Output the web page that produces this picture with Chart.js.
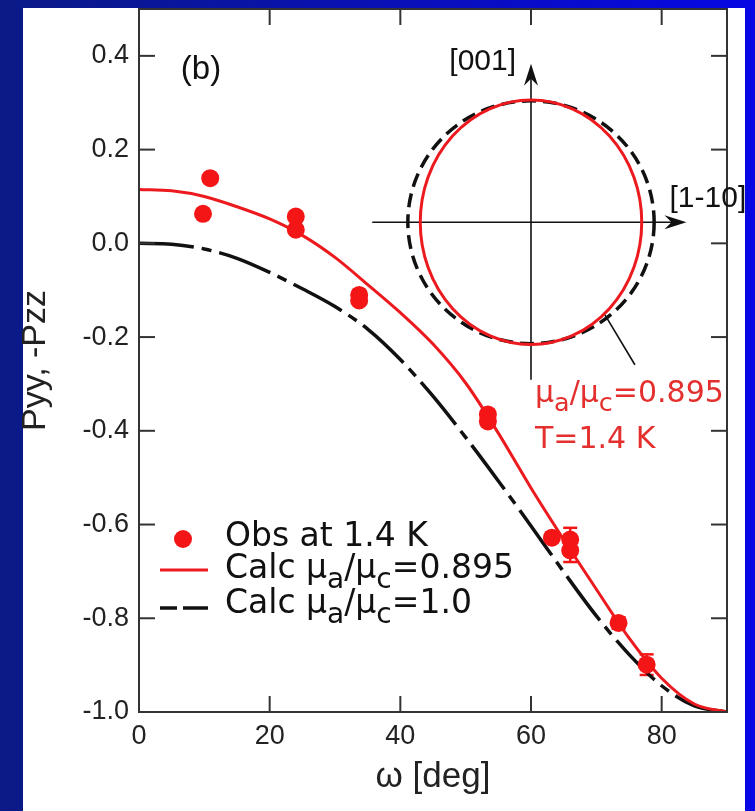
<!DOCTYPE html>
<html><head><meta charset="utf-8">
<script src="https://cdn.jsdelivr.net/npm/chart.js@4"></script>
<style>
html,body{margin:0;padding:0;width:755px;height:811px;overflow:hidden;}
body{background:linear-gradient(to right,#0b1a86,#0707e4);position:relative;}
#panel{position:absolute;left:23px;top:8px;width:722px;height:803px;background:#fff;}
#wrap{position:absolute;left:0;top:0;width:755px;height:811px;}
</style></head><body>
<div id="panel"></div>
<div id="wrap"><canvas id="c" width="755" height="811"></canvas></div>
<script>
// ---- data ----
const calcOmega = [0, 5, 10, 15, 20, 25, 30, 35, 40, 45, 50, 55, 60, 65, 70, 75, 80, 85, 90];
const calcRed   = [0.115, 0.112, 0.100, 0.078, 0.052, 0.017, -0.030, -0.088, -0.148, -0.215, -0.298, -0.405, -0.522, -0.632, -0.738, -0.842, -0.928, -0.983, -1.0];
const calcBlack = [0.0, -0.002, -0.012, -0.032, -0.062, -0.097, -0.135, -0.183, -0.248, -0.326, -0.414, -0.507, -0.603, -0.701, -0.795, -0.877, -0.944, -0.987, -1.0];
const obsOmega = [9.8, 10.9, 24.0, 24.0, 33.7, 33.7, 53.4, 53.4, 63.2, 66.0, 66.0, 73.4, 77.7];
const obsP     = [0.063, 0.139, 0.057, 0.029, -0.110, -0.122, -0.365, -0.380, -0.628, -0.632, -0.655, -0.810, -0.899];
const obsErr   = [0.005, 0.005, 0.005, 0.005, 0.005, 0.005, 0.010, 0.010, 0.010, 0.025, 0.025, 0.012, 0.022];
const xTicks = [0, 20, 40, 60, 80];
const yTicks = [-1.0, -0.8, -0.6, -0.4, -0.2, 0.0, 0.2, 0.4];
const xTitle = 'ω [deg]';
const yTitle = 'Pyy, -Pzz';
const legendObs = 'Obs at 1.4 K';
const legendRed = [['Calc μ', 0], ['a', 1], ['/μ', 0], ['c', 1], ['=0.895', 0]];
const legendBlack = [['Calc μ', 0], ['a', 1], ['/μ', 0], ['c', 1], ['=1.0', 0]];
const insetRatioText = [['μ', 0], ['a', 1], ['/μ', 0], ['c', 1], ['=0.895', 0]];
const insetTempText = 'T=1.4 K';
const panelLabel = '(b)';
const axisLabelV = '[001]';
const axisLabelH = '[1-10]';
// inset (ellipse sketch) expressed in data units of the main axes
const insetCenter = [60.0, 0.045];
const ellipseRedRadii = [16.95, 0.261];
const circleBlackRadii = [18.85, 0.259];
const insetHAxis = [35.7, 83.8];
const insetVAxis = [-0.291, 0.383];
const pointerLine = [[71.3, -0.152], [75.9, -0.259]];

const RED = '#ec1a1e', MARK = '#f41616', TXTRED = '#e3302e', BLK = '#111';

function drawRich(ctx, parts, x, y, size, family, color) {
  let cx = x;
  ctx.fillStyle = color; ctx.textBaseline = 'alphabetic'; ctx.textAlign = 'left';
  parts.forEach(([t, sub]) => {
    const fs = sub ? size * 0.85 : size;
    ctx.font = fs + 'px "' + family + '"';
    ctx.fillText(t, cx, y + (sub ? size * 0.3 : 0));
    cx += ctx.measureText(t).width;
  });
}
function line(ctx, x1, y1, x2, y2) { ctx.beginPath(); ctx.moveTo(x1, y1); ctx.lineTo(x2, y2); ctx.stroke(); }
function arrowHead(ctx, tx, ty, dx, dy) {
  const L = 22, W = 7, N = 15, px = -dy, py = dx;
  ctx.beginPath();
  ctx.moveTo(tx, ty);
  ctx.lineTo(tx - dx * L + px * W, ty - dy * L + py * W);
  ctx.lineTo(tx - dx * N, ty - dy * N);
  ctx.lineTo(tx - dx * L - px * W, ty - dy * L - py * W);
  ctx.closePath(); ctx.fill();
}

const decor = {
  id: 'decor',
  beforeDatasetsDraw(chart) {
    const {ctx, scales: {x, y}} = chart;
    ctx.save();
    ctx.strokeStyle = MARK; ctx.lineWidth = 2.5;
    obsOmega.forEach((w, i) => {
      const px = x.getPixelForValue(w);
      const y1 = y.getPixelForValue(obsP[i] + obsErr[i]);
      const y2 = y.getPixelForValue(obsP[i] - obsErr[i]);
      line(ctx, px, y1, px, y2);
      line(ctx, px - 7, y1, px + 7, y1);
      line(ctx, px - 7, y2, px + 7, y2);
    });
    ctx.restore();
  },
  afterDraw(chart) {
    const {ctx, chartArea: a, scales: {x, y}} = chart;
    ctx.save();
    // frame + inward ticks
    ctx.strokeStyle = '#333'; ctx.lineWidth = 2;
    ctx.strokeRect(a.left, a.top, a.right - a.left, a.bottom - a.top);
    const TL = 16;
    xTicks.forEach(v => {
      if (v === 0) return;
      const px = x.getPixelForValue(v);
      line(ctx, px, a.bottom, px, a.bottom - TL);
      line(ctx, px, a.top, px, a.top + TL);
    });
    yTicks.forEach(v => {
      if (v === -1) return;
      const py = y.getPixelForValue(v);
      line(ctx, a.left, py, a.left + TL, py);
      line(ctx, a.right, py, a.right - TL, py);
    });
    // inset
    const cx = x.getPixelForValue(insetCenter[0]), cy = y.getPixelForValue(insetCenter[1]);
    const rxB = x.getPixelForValue(insetCenter[0] + circleBlackRadii[0]) - cx;
    const ryB = cy - y.getPixelForValue(insetCenter[1] + circleBlackRadii[1]);
    const rxR = x.getPixelForValue(insetCenter[0] + ellipseRedRadii[0]) - cx;
    const ryR = cy - y.getPixelForValue(insetCenter[1] + ellipseRedRadii[1]);
    ctx.strokeStyle = BLK; ctx.fillStyle = BLK; ctx.lineWidth = 1.6;
    const hx1 = x.getPixelForValue(insetHAxis[0]), hx2 = x.getPixelForValue(insetHAxis[1]);
    const vy1 = y.getPixelForValue(insetVAxis[0]), vy2 = y.getPixelForValue(insetVAxis[1]);
    line(ctx, hx1, cy, hx2 - 12, cy);
    line(ctx, cx, vy1, cx, vy2 + 12);
    arrowHead(ctx, hx2, cy, 1, 0);
    arrowHead(ctx, cx, vy2, 0, -1);
    line(ctx, x.getPixelForValue(pointerLine[0][0]), y.getPixelForValue(pointerLine[0][1]),
              x.getPixelForValue(pointerLine[1][0]), y.getPixelForValue(pointerLine[1][1]));
    ctx.lineWidth = 3.5; ctx.setLineDash([14, 7]);
    ctx.beginPath(); ctx.ellipse(cx, cy, rxB, ryB, 0, 0, Math.PI * 2); ctx.stroke();
    ctx.setLineDash([]);
    ctx.strokeStyle = RED; ctx.lineWidth = 3;
    ctx.beginPath(); ctx.ellipse(cx, cy, rxR, ryR, 0, 0, Math.PI * 2); ctx.stroke();
    // inset labels
    ctx.fillStyle = '#111'; ctx.font = '30px "Liberation Sans"'; ctx.textAlign = 'left'; ctx.textBaseline = 'alphabetic';
    ctx.fillText(axisLabelV, x.getPixelForValue(47.5), y.getPixelForValue(0.37));
    ctx.fillText(axisLabelH, x.getPixelForValue(81.2), y.getPixelForValue(0.078));
    ctx.font = '33px "Liberation Sans"';
    ctx.fillText(panelLabel, x.getPixelForValue(6.4), y.getPixelForValue(0.35));
    drawRich(ctx, insetRatioText, x.getPixelForValue(60.6), y.getPixelForValue(-0.338), 30, 'DejaVu Sans', TXTRED);
    ctx.font = '30px "DejaVu Sans"'; ctx.fillStyle = TXTRED;
    ctx.fillText(insetTempText, x.getPixelForValue(60.6), y.getPixelForValue(-0.437));
    // legend
    const lx = a.left, ly = a.top;
    ctx.fillStyle = MARK;
    ctx.beginPath(); ctx.arc(lx + 44, ly + 530, 9, 0, Math.PI * 2); ctx.fill();
    ctx.strokeStyle = RED; ctx.lineWidth = 3;
    line(ctx, lx + 21, ly + 561, lx + 69, ly + 561);
    ctx.strokeStyle = BLK; ctx.lineWidth = 3.5;
    line(ctx, lx + 21, ly + 599, lx + 38, ly + 599);
    line(ctx, lx + 44, ly + 599, lx + 69, ly + 599);
    ctx.fillStyle = '#111'; ctx.font = '33px "DejaVu Sans"';
    ctx.fillText(legendObs, lx + 86, ly + 537);
    drawRich(ctx, legendRed, lx + 86, ly + 569, 33, 'DejaVu Sans', '#111');
    drawRich(ctx, legendBlack, lx + 86, ly + 604, 33, 'DejaVu Sans', '#111');
    ctx.restore();
  }
};

const fmt = v => (Math.abs(v) < 1e-9 ? '0.0' : v.toFixed(1));

new Chart(document.getElementById('c'), {
  type: 'scatter',
  data: {
    datasets: [
      { label: legendObs, data: obsOmega.map((w, i) => ({x: w, y: obsP[i]})), showLine: false,
        pointRadius: 9, pointBackgroundColor: MARK, pointBorderWidth: 0, order: 0 },
      { label: 'Calc 0.895', data: calcOmega.map((w, i) => ({x: w, y: calcRed[i]})), showLine: true,
        borderColor: RED, borderWidth: 3, pointRadius: 0, cubicInterpolationMode: 'monotone', order: 1 },
      { label: 'Calc 1.0', data: calcOmega.map((w, i) => ({x: w, y: calcBlack[i]})), showLine: true,
        borderColor: BLK, borderWidth: 3.5, borderDash: [55, 8, 10, 8], pointRadius: 0, cubicInterpolationMode: 'monotone', order: 2 }
    ]
  },
  options: {
    responsive: false, animation: false, devicePixelRatio: 1,
    layout: { padding: { top: 9, right: 28, left: 0, bottom: 0 } },
    plugins: { legend: { display: false }, tooltip: { enabled: false } },
    scales: {
      x: {
        type: 'linear', min: 0, max: 90,
        afterFit: s => { s.height = 99; s.paddingLeft = 0; s.paddingRight = 0; },
        afterBuildTicks: s => { s.ticks = xTicks.map(v => ({value: v})); },
        grid: { display: false, drawTicks: false }, border: { display: false },
        ticks: { padding: 8, color: '#222', font: { family: 'Liberation Sans', size: 27 }, maxRotation: 0, autoSkip: false },
        title: { display: true, text: xTitle, color: '#222', font: { family: 'Liberation Sans', size: 35 }, padding: { top: 0, bottom: 13 } }
      },
      y: {
        type: 'linear', min: -1, max: 0.5,
        afterFit: s => { s.width = 139; s.paddingTop = 0; s.paddingBottom = 0; },
        afterBuildTicks: s => { s.ticks = yTicks.map(v => ({value: v})); },
        grid: { display: false, drawTicks: false }, border: { display: false },
        ticks: { padding: 10, color: '#222', font: { family: 'Liberation Sans', size: 27 }, callback: fmt, autoSkip: false },
        title: { display: true, text: yTitle, color: '#222', font: { family: 'Liberation Sans', size: 34 }, padding: { top: 15, bottom: 0 } }
      }
    }
  },
  plugins: [decor]
});
</script>
</body></html>
